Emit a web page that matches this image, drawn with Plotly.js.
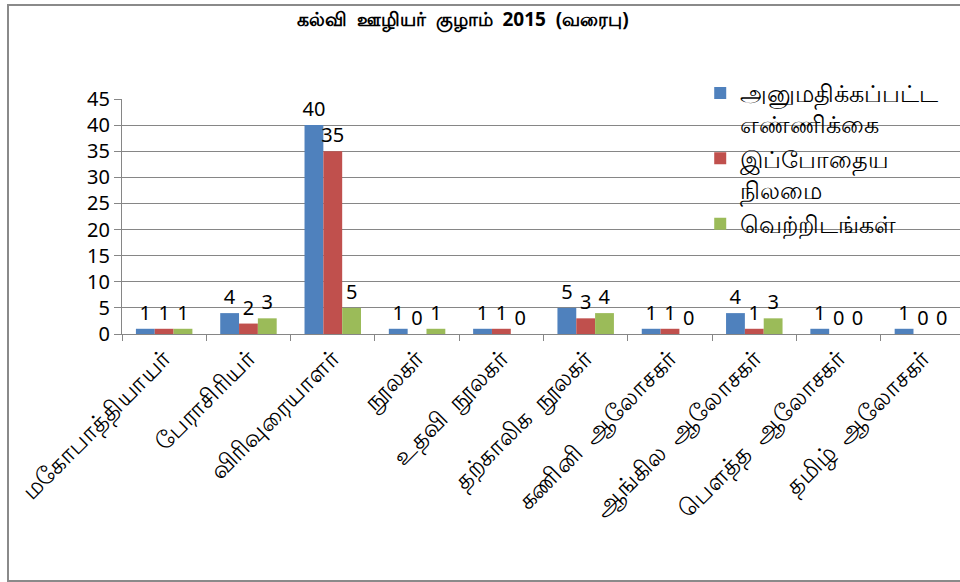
<!DOCTYPE html>
<html>
<head>
<meta charset="utf-8">
<script src="https://cdn.plot.ly/plotly-3.0.1.min.js"></script>
<style>
  body { margin: 0; background: #fff; }
  #wrap { position: relative; width: 960px; height: 582px; overflow: hidden; }
  #chart { width: 960px; height: 582px; }
  #frame { position: absolute; left: 7px; top: 4px; width: 1000px; height: 574px;
           border: 2px solid #8a8a8a; pointer-events: none; }
</style>
</head>
<body>
<div id="wrap">
  <div id="chart"></div>
  <div id="frame"></div>
</div>
<script>
document.addEventListener('DOMContentLoaded', function() {
    var categories = ['மகோபாத்தியாயர்', 'பேராசிரியர்', 'விரிவுரையாளர்', 'நூலகர்',
        'உதவி  நூலகர்', 'தற்காலிக  நூலகர்', 'கணினி  ஆலோசகர்', 'ஆங்கில  ஆலோசகர்',
        'பௌத்த  ஆலோசகர்', 'தமிழ்  ஆலோசகர்'];
    var approved = [1, 4, 40, 1, 1, 5, 1, 4, 1, 1];
    var current = [1, 2, 35, 0, 1, 3, 1, 1, 0, 0];
    var vacancies = [1, 3, 5, 1, 0, 4, 0, 3, 0, 0];

    var seriesNames = ['அனுமதிக்கப்பட்ட<br>எண்ணிக்கை', 'இப்போதைய<br>நிலமை', 'வெற்றிடங்கள்'];
    var seriesValues = [approved, current, vacancies];
    var colors = ['#4F81BD', '#C0504D', '#9BBB59'];

    var labelFont = { family: 'Noto Sans, Lato, sans-serif', size: 20, color: '#000' };

    var data = seriesValues.map(function(vals, i) {
        return {
            x: categories,
            y: vals,
            name: seriesNames[i],
            type: 'bar',
            marker: { color: colors[i] },
            text: vals.map(String),
            textposition: 'outside',
            constraintext: 'none',
            textfont: labelFont,
            cliponaxis: false,
            hoverinfo: 'none'
        };
    });

    var layout = {
        width: 960,
        height: 582,
        margin: { l: 122, r: 0, t: 99, b: 248, autoexpand: false },
        paper_bgcolor: '#fff',
        plot_bgcolor: '#fff',
        barmode: 'group',
        bargap: 0.33,
        bargroupgap: 0,
        title: {
            text: '<b>கல்வி  ஊழியர்  குழாம்  2015  (வரைபு)</b>',
            font: { family: 'Liberation Sans Narrow, Noto Sans, sans-serif', size: 19, color: '#000' },
            xref: 'container', x: 0.482, xanchor: 'center',
            yref: 'container', y: 0.966, yanchor: 'middle'
        },
        xaxis: {
            type: 'category',
            range: [-0.5, 9.44],
            tickangle: -45,
            tickfont: { family: 'Noto Sans, sans-serif', size: 24, color: '#000' },
            ticks: 'outside',
            tickson: 'boundaries',
            ticklen: 6,
            tickcolor: '#868686',
            showline: true,
            linecolor: '#868686',
            linewidth: 1,
            showgrid: false,
            automargin: false
        },
        yaxis: {
            range: [0, 45],
            dtick: 5,
            tickfont: labelFont,
            ticks: 'outside',
            ticklen: 7,
            tickcolor: '#868686',
            showline: true,
            linecolor: '#868686',
            linewidth: 1,
            gridcolor: '#868686',
            gridwidth: 1,
            zeroline: false,
            automargin: false
        },
        legend: {
            x: 0.69, y: 1.12,
            xanchor: 'left', yanchor: 'top',
            valign: 'top',
            bgcolor: 'rgba(0,0,0,0)',
            font: { family: 'Noto Sans, sans-serif', size: 24, color: '#000' },
            itemwidth: 30,
            tracegroupgap: 0
        },
        showlegend: true
    };

    var config = { staticPlot: true, displayModeBar: false };

    Plotly.newPlot('chart', data, layout, config);
});
</script>
</body>
</html>
